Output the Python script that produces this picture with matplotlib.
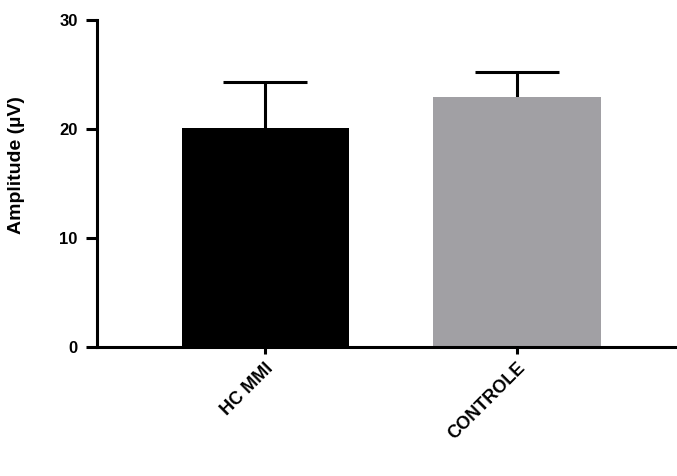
import matplotlib
matplotlib.use("Agg")
import matplotlib.pyplot as plt
import numpy as np

categories = ["HC MMI", "CONTROLE"]
means = [20.1, 22.9]
err_upper = [4.2, 2.35]
colors = ["#000000", "#a1a0a4"]
yticks = [0, 10, 20, 30]

plt.rcParams['font.family'] = ['Liberation Sans', 'DejaVu Sans']
plt.rcParams['font.weight'] = 'bold'

fig = plt.figure(figsize=(6.77, 4.76), dpi=100)
ax = fig.add_axes([0.1433, 0.271, 0.8567, 0.687])

x = np.arange(len(categories))
ax.bar(x, means, width=0.663, color=colors, zorder=2)
ax.errorbar(x, means, yerr=err_upper, fmt='none', ecolor='black',
            elinewidth=2.2, capsize=30, capthick=2.2, zorder=1)

ax.set_xlim(-0.667, 1.635)
ax.set_ylim(0, 30)
ax.set_yticks(yticks)
ax.set_yticklabels([str(t) for t in yticks], fontsize=12, fontweight='bold')
ax.set_xticks(x)
ax.set_xticklabels(categories, rotation=45, ha='right', rotation_mode='anchor',
                   fontsize=13, fontweight='bold')
ax.set_ylabel("Amplitude (µV)", fontsize=14, fontweight='bold')
ax.yaxis.set_label_coords(-0.124, 0.557)

for s in ['top', 'right']:
    ax.spines[s].set_visible(False)
for s in ['left', 'bottom']:
    ax.spines[s].set_linewidth(2.2)
ax.tick_params(axis='y', length=8, width=2.2, pad=6)
ax.tick_params(axis='x', length=5, width=2.2, pad=4)

fig.savefig("out.png", dpi=100)
